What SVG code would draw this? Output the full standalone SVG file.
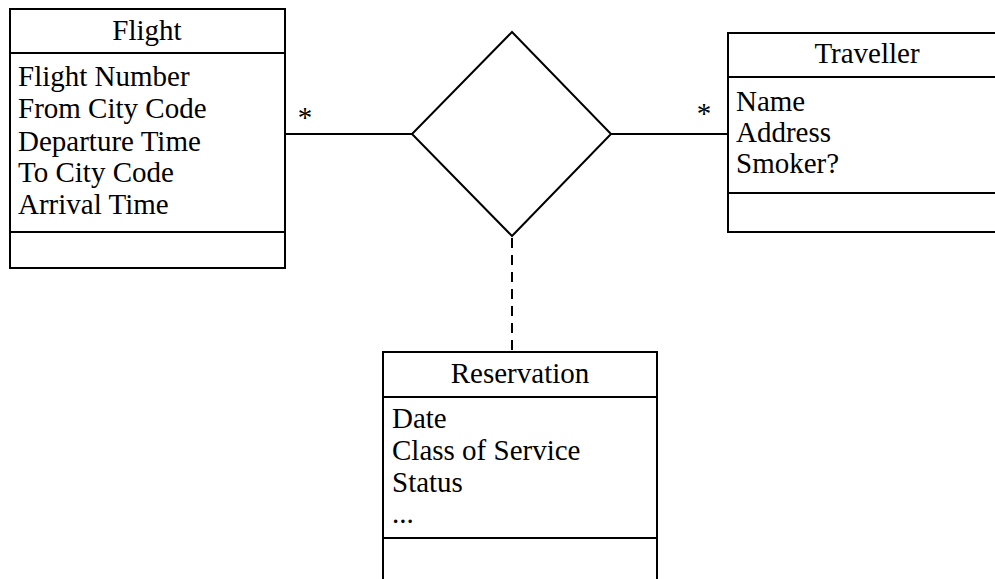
<svg xmlns="http://www.w3.org/2000/svg" width="995" height="579" viewBox="0 0 995 579">
<style>
.box{fill:#fff;stroke:#000;stroke-width:2}
.ln{stroke:#000;stroke-width:2;fill:none}
.dash{stroke:#000;stroke-width:2;fill:none;stroke-dasharray:10 7}
text{font-family:"Liberation Serif","Times New Roman",serif;font-size:29px;fill:#000}
.c{text-anchor:middle}
</style>
<rect width="995" height="579" fill="#fff"/>
<g id="connectors">
<line class="ln" x1="285" y1="134" x2="412" y2="134"/>
<line class="ln" x1="611" y1="134" x2="728" y2="134"/>
<line class="dash" x1="512" y1="238" x2="512" y2="352"/>
<text x="305" y="127" class="c">*</text>
<text x="704" y="123" class="c">*</text>
</g>
<g id="association">
<polygon class="box" points="512,32 611,134 512,236 412,134"/>
</g>
<g id="flight">
<rect class="box" x="10" y="9" width="275" height="259"/>
<line class="ln" x1="10" y1="53" x2="285" y2="53"/>
<line class="ln" x1="10" y1="232" x2="285" y2="232"/>
<text x="147" y="40" class="c">Flight</text>
<text x="18" y="86">Flight Number</text>
<text x="18" y="118">From City Code</text>
<text x="18" y="151">Departure Time</text>
<text x="18" y="182">To City Code</text>
<text x="18" y="214">Arrival Time</text>
</g>
<g id="traveller">
<rect class="box" x="728" y="33" width="280" height="199"/>
<line class="ln" x1="728" y1="77" x2="1008" y2="77"/>
<line class="ln" x1="728" y1="193" x2="1008" y2="193"/>
<text x="867" y="63" class="c">Traveller</text>
<text x="736" y="111">Name</text>
<text x="736" y="142">Address</text>
<text x="736" y="173">Smoker?</text>
</g>
<g id="reservation">
<rect class="box" x="383" y="352" width="274" height="240"/>
<line class="ln" x1="383" y1="397" x2="657" y2="397"/>
<line class="ln" x1="383" y1="538" x2="657" y2="538"/>
<text x="520" y="383" class="c">Reservation</text>
<text x="392" y="428">Date</text>
<text x="392" y="460">Class of Service</text>
<text x="392" y="492">Status</text>
<text x="392" y="523">...</text>
</g>
</svg>
